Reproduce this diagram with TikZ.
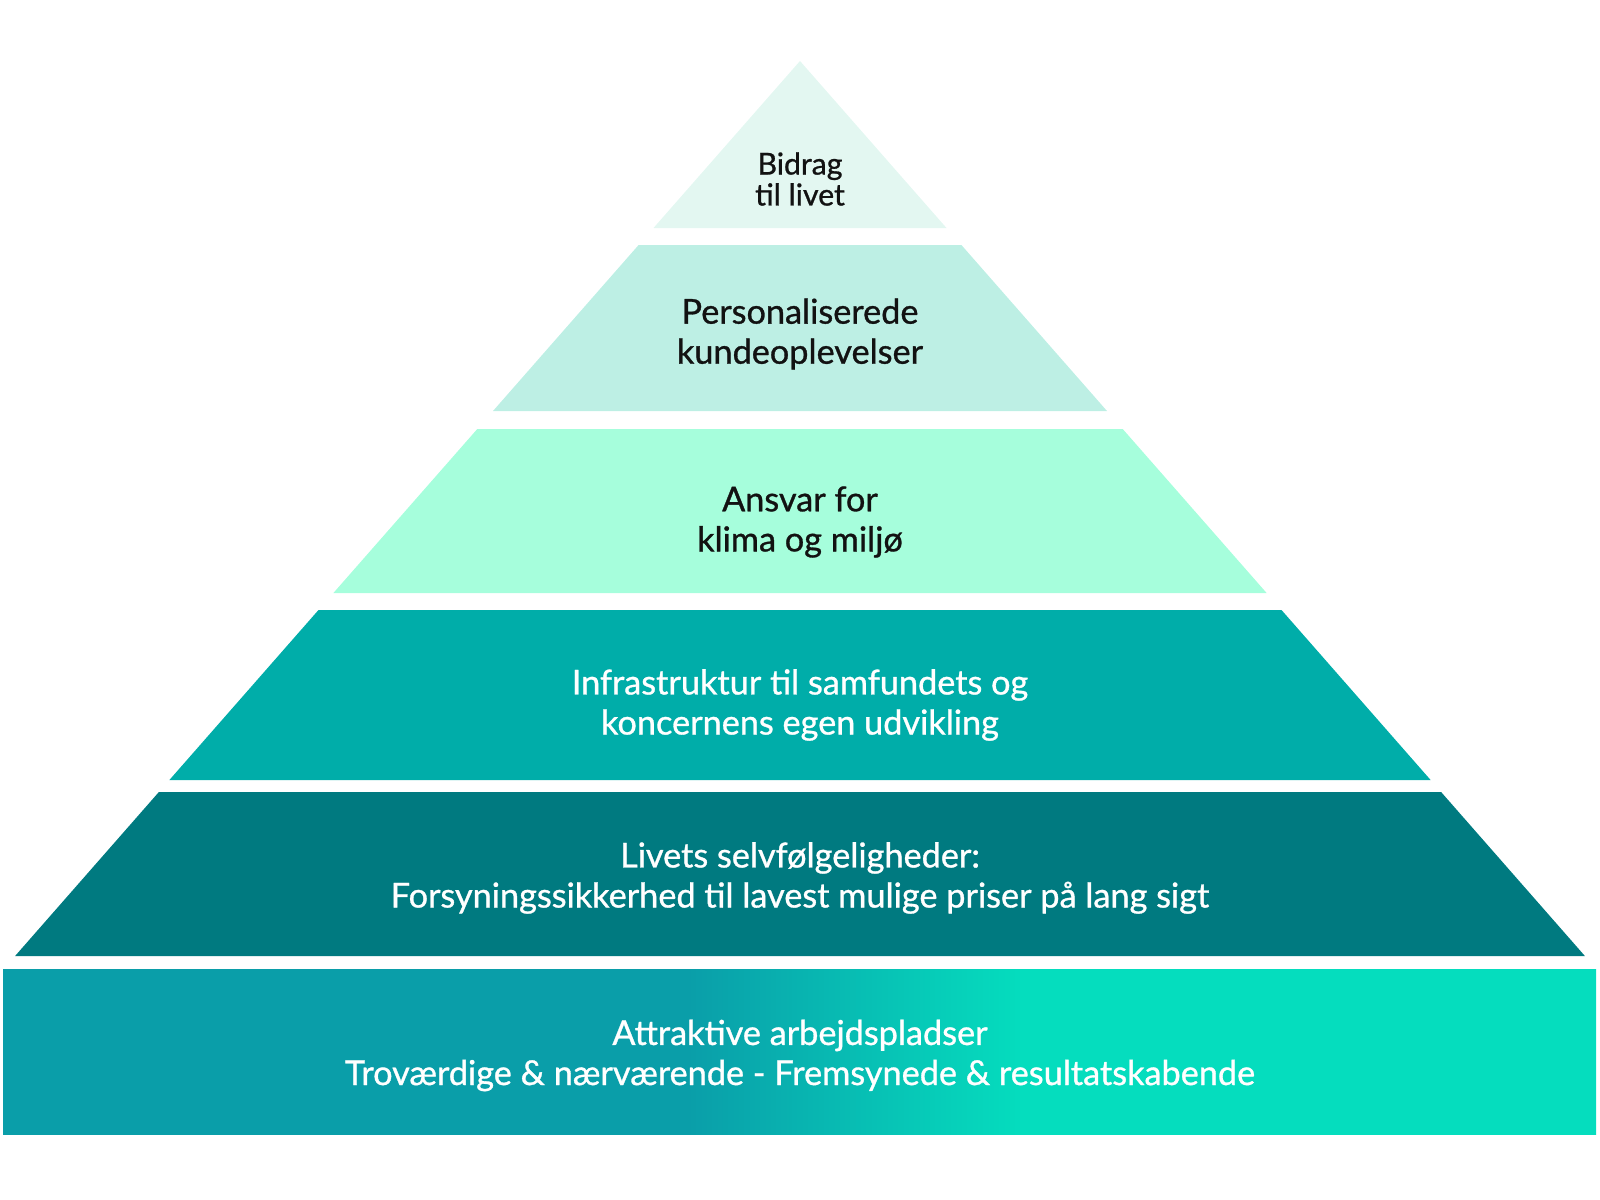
\documentclass[tikz,border=0pt]{standalone}
\usepackage{fontspec}
\setmainfont{Lato}[FakeBold=0.9]
\usepackage{xcolor}
\usetikzlibrary{positioning}

\definecolor{niveauA}{HTML}{E3F7F1}
\definecolor{niveauB}{HTML}{BDEFE4}
\definecolor{niveauC}{HTML}{A6FEDC}
\definecolor{niveauD}{HTML}{00ADA9}
\definecolor{niveauE}{HTML}{007A80}
\definecolor{baseL}{HTML}{0A9EA9}
\definecolor{baseR}{HTML}{05DDBE}
\pgfdeclarehorizontalshading{baseshade}{100bp}{color(0bp)=(baseL); color(46.5bp)=(baseL); color(57bp)=(baseR); color(100bp)=(baseR)}

\begin{document}
\begin{tikzpicture}[x=0.02cm, y=-0.02cm]
    % Stilarter
    \tikzstyle{tekst}=[align=center, inner sep=0pt, font=\fontsize{19.5}{22.8}\selectfont]
    \tikzstyle{mork}=[tekst, text=black!93]
    \tikzstyle{lys}=[tekst, text=white]

    \useasboundingbox (0,0) rectangle (1600,1200);

    % Niveauer
    \fill[niveauA] (800,61) -- (946.5,228) -- (653.5,228) -- cycle;
    \fill[niveauB] (638.6,245) -- (961.4,245) -- (1107,411) -- (493,411) -- cycle;
    \fill[niveauC] (477.3,429) -- (1122.7,429) -- (1266.6,593) -- (333.4,593) -- cycle;
    \fill[niveauD] (318.5,610) -- (1281.5,610) -- (1430.6,780) -- (169.4,780) -- cycle;
    \fill[niveauE] (158.9,792) -- (1441.1,792) -- (1584.9,956) -- (15.1,956) -- cycle;
    \shade[shading=baseshade] (3,969) rectangle (1596,1134);

    % Tekster
    \node (bidrag) [mork, font=\fontsize{17.2}{17.6}\selectfont] at (800,179) {Bidrag\\til livet};
    \node (kunde) [mork] at (800,334) {Personaliserede\\kundeoplevelser};
    \node (klima) [mork] at (800,522) {Ansvar for\\klima og miljø};
    \node (infra) [lys] at (800,705) {Infrastruktur til samfundets og\\koncernens egen udvikling};
    \node (forsyning) [lys] at (800,878) {Livets selvfølgeligheder:\\Forsyningssikkerhed til lavest mulige priser på lang sigt};
    \node (arbejde) [lys] at (800,1055.5) {Attraktive arbejdspladser\\Troværdige \& nærværende - Fremsynede \& resultatskabende};
\end{tikzpicture}
\end{document}
